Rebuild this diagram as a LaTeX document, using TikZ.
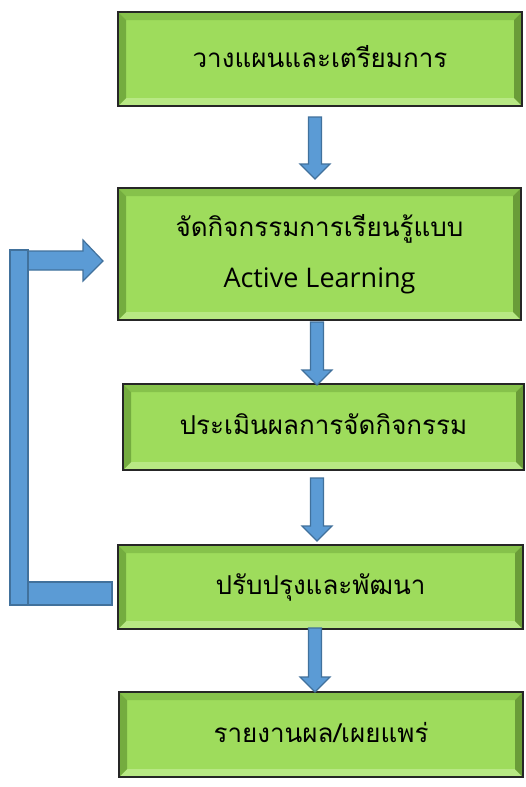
\documentclass[tikz,border=0pt]{standalone}
\usepackage{fontspec}
\newfontfamily\thaifont[Script=Thai]{Loma}
\newfontfamily\latinfont{Open Sans}
\usetikzlibrary{calc}
\definecolor{face}{HTML}{9EDC5C}
\definecolor{bevtopc}{HTML}{86C24B}
\definecolor{bevleftc}{HTML}{74AC3F}
\definecolor{bevrightc}{HTML}{6A9C38}
\definecolor{bevbotc}{HTML}{B8E884}
\definecolor{arrfill}{HTML}{5B9BD5}
\definecolor{arrline}{HTML}{41719C}
\tikzset{
  stepbox/.style={fill=face, inner sep=0pt, outer sep=0pt, align=center,
    font=\thaifont\fontsize{26}{50}\selectfont},
  blockarrow/.style={fill=arrfill, draw=arrline, line width=1.2pt, line join=miter},
  bevtop/.style={fill=bevtopc},
  bevleft/.style={fill=bevleftc},
  bevright/.style={fill=bevrightc},
  bevbot/.style={fill=bevbotc},
  boxborder/.style={draw=black!85, line width=1.8pt}
}
\newcommand\mybevel[1]{%
  \fill[bevtop] (#1.north west) -- (#1.north east) -- ($(#1.north east)+(-8,8)$) -- ($(#1.north west)+(8,8)$) -- cycle;
  \fill[bevbot] (#1.south west) -- (#1.south east) -- ($(#1.south east)+(-8,-8)$) -- ($(#1.south west)+(8,-8)$) -- cycle;
  \fill[bevleft] (#1.north west) -- ($(#1.north west)+(8,8)$) -- ($(#1.south west)+(8,-8)$) -- (#1.south west) -- cycle;
  \fill[bevright] (#1.north east) -- ($(#1.north east)+(-8,8)$) -- ($(#1.south east)+(-8,-8)$) -- (#1.south east) -- cycle;
  \draw[boxborder] (#1.north west) rectangle (#1.south east);
}
\newcommand\mydownarrow[2]{%
  \draw[blockarrow] let \p1=(#1), \p2=(#2) in
    (\x1-6.5pt,\y1) -- (\x1+6.5pt,\y1) -- (\x1+6.5pt,\y2+15pt) -- (\x1+15pt,\y2+15pt)
    -- (\x1,\y2) -- (\x1-15pt,\y2+15pt) -- (\x1-6.5pt,\y2+15pt) -- cycle;
}
\begin{document}
\begin{tikzpicture}[x=1pt,y=-1pt]
\fill[white] (0,0) rectangle (525,787);
\useasboundingbox (0,0) rectangle (525,787);

\node[stepbox, minimum width=404pt, minimum height=94pt] (b1) at (320,59) {\raisebox{6pt}{วางแผนและเตรียมการ}};
\node[stepbox, minimum width=403pt, minimum height=132pt] (b2) at (319.5,254) {\raisebox{1pt}{จัดกิจกรรมการเรียนรู้แบบ}\\{\latinfont\fontsize{27}{50}\selectfont Active Learning}};
\node[stepbox, minimum width=401pt, minimum height=86pt] (b3) at (323.5,427) {\raisebox{5pt}{ประเมินผลการจัดกิจกรรม}};
\node[stepbox, minimum width=405pt, minimum height=84pt] (b4) at (320.5,587) {\raisebox{3pt}{ปรับปรุงและพัฒนา}};
\node[stepbox, minimum width=404pt, minimum height=85pt] (b5) at (321,734.5) {\raisebox{5pt}{รายงานผล/เผยแพร่}};

\mybevel{b1}
\mybevel{b2}
\mybevel{b3}
\mybevel{b4}
\mybevel{b5}

\coordinate (a1s) at ($(b1.south)+(-5,11)$);
\coordinate (a1e) at ($(b2.north)+(-4.5,-9)$);
\coordinate (a2s) at ($(b2.south)+(-2.5,2)$);
\coordinate (a2e) at ($(b3.north)+(-6.5,1)$);
\coordinate (a3s) at ($(b3.south)+(-6.5,8)$);
\coordinate (a3e) at ($(b4.north)+(-3.5,-4)$);
\coordinate (a4s) at ($(b4.south)+(-5.5,-1)$);
\coordinate (a4e) at ($(b5.north)+(-6,0)$);
\mydownarrow{a1s}{a1e}
\mydownarrow{a2s}{a2e}
\mydownarrow{a3s}{a3e}
\mydownarrow{a4s}{a4e}

% feedback loop from b4 back to b2
\coordinate (fbs) at ($(b4.west)+(-6,6.5)$);
\coordinate (fbe) at ($(b2.west)+(-15,7)$);
\draw[blockarrow] let \p1=(fbs) in
  (\x1,\y1+11.5pt) rectangle (\x1-84pt,\y1-11.5pt);
\draw[blockarrow] let \p1=(fbs), \p2=(fbe) in
  (\x1-84pt,\y2+10pt) -- (\x2-20pt,\y2+10pt) -- (\x2-20pt,\y2+21pt) -- (\x2,\y2)
  -- (\x2-20pt,\y2-20pt) -- (\x2-20pt,\y2-9pt) -- (\x1-84pt,\y2-9pt) -- cycle;
\draw[blockarrow] let \p1=(fbs), \p2=(fbe) in
  (\x1-102pt,\y1-11.5pt) rectangle (\x1-84pt,\y2+11pt);
\end{tikzpicture}
\end{document}
